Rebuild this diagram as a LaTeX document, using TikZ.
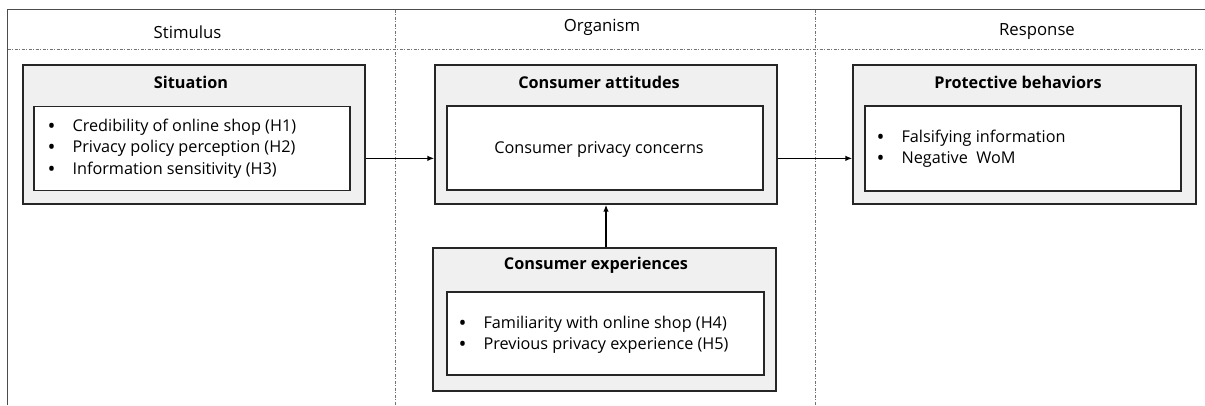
\documentclass[tikz,border=0pt]{standalone}
\usepackage{fontspec}
\setmainfont{Open Sans}
\usetikzlibrary{arrows.meta,calc}
\newcommand{\bitem}[1]{\makebox[14bp][l]{}\makebox[25bp][l]{\raisebox{-2.2bp}{\scalebox{1.3}{\textbullet}}}#1}
\begin{document}
\begin{tikzpicture}[x=1bp,y=-1bp,
  outerbox/.style={draw=black!85,line width=1.3bp,fill=black!6,minimum width=342bp,minimum height=139bp,inner sep=0pt},
  innerbox/.style={draw=black!85,line width=1.3bp,fill=white,minimum width=316bp,minimum height=84bp,inner sep=0pt},
  boxtitle/.style={font=\fontsize{16.3}{19}\selectfont\bfseries,inner sep=0pt},
  bodytext/.style={font=\fontsize{16.3}{21.5}\selectfont,align=left,inner sep=0pt},
  header/.style={font=\fontsize{16.8}{19}\selectfont,inner sep=0pt},
  frameline/.style={draw=black!70,line width=1.4bp},
  divider/.style={draw=black!55,line width=1bp,dash pattern=on 3bp off 1.5bp on 1bp off 1.5bp},
  link/.style={draw=black,line width=1.6bp,-{Latex[length=7bp,width=5.5bp]}}
]
\useasboundingbox (0,0) rectangle (1205,405);

% frame of the three columns
\coordinate (tl) at (7.5,9.5);
\coordinate (tr) at (1205,9.5);
\coordinate (bl) at (7.5,405);
\draw[frameline] (bl) -- (tl) -- (tr);
\coordinate (hl) at (7.5,49);
\coordinate (hr) at (1205,49);
\draw[divider] (hl) -- (hr);
\coordinate (d1t) at (395.7,9.5);
\coordinate (d1b) at (395.7,405);
\coordinate (d2t) at (815.7,9.5);
\coordinate (d2b) at (815.7,405);
\draw[divider] (d1t) -- (d1b);
\draw[divider] (d2t) -- (d2b);

% column headers
\node[header] (hs) at (187.5,32) {Stimulus};
\node[header] (ho) at (602,27) {Organism};
\node[header] (hr2) at (1037,32) {Response};

% stimulus
\node[outerbox] (sit) at (194,134.5) {};
\node[innerbox] (siti) at (192,148.5) {};
\node[boxtitle] (sitt) at (191,82) {Situation};
\node[bodytext,anchor=west] (sitx) at (siti.west)
  {\bitem{Credibility of online shop (H1)}\\\bitem{Privacy policy perception (H2)}\\\bitem{Information sensitivity (H3)}};

% organism
\node[outerbox] (att) at (606,134.5) {};
\node[innerbox] (atti) at (605,148) {};
\node[boxtitle] (attt) at (599,82) {Consumer attitudes};
\node[bodytext] (attx) at (599,149) {Consumer privacy concerns};

\node[outerbox,minimum width=343bp,minimum height=143bp] (exp) at (604.5,319.5) {};
\node[innerbox,minimum width=317bp,minimum height=83bp] (expi) at (605.5,333.5) {};
\node[boxtitle] (expt) at (596,265) {Consumer experiences};
\node[bodytext,anchor=west] (expx) at ([xshift=-2bp,yshift=-1bp]expi.west)
  {\bitem{Familiarity with online shop (H4)}\\\bitem{Previous privacy experience (H5)}};

% response
\node[outerbox,minimum width=343bp] (pro) at (1024.5,134.5) {};
\node[innerbox,minimum height=85bp] (proi) at (1023,148.5) {};
\node[boxtitle] (prot) at (1018,82) {Protective behaviors};
\node[bodytext,anchor=west] (prox) at ([xshift=-2bp]proi.west)
  {\bitem{Falsifying information}\\\bitem{Negative\ \ WoM}};

% connectors
\draw[link] ($(sit.north east)!0.67!(sit.south east)$) -- ($(att.north west)!0.67!(att.south west)$);
\draw[link] ($(att.north east)!0.67!(att.south east)$) -- ($(pro.north west)!0.67!(pro.south west)$);
\draw[link] ([xshift=1.5bp]exp.north) -- ([xshift=1.5bp]exp.north |- att.south);
\end{tikzpicture}
\end{document}
